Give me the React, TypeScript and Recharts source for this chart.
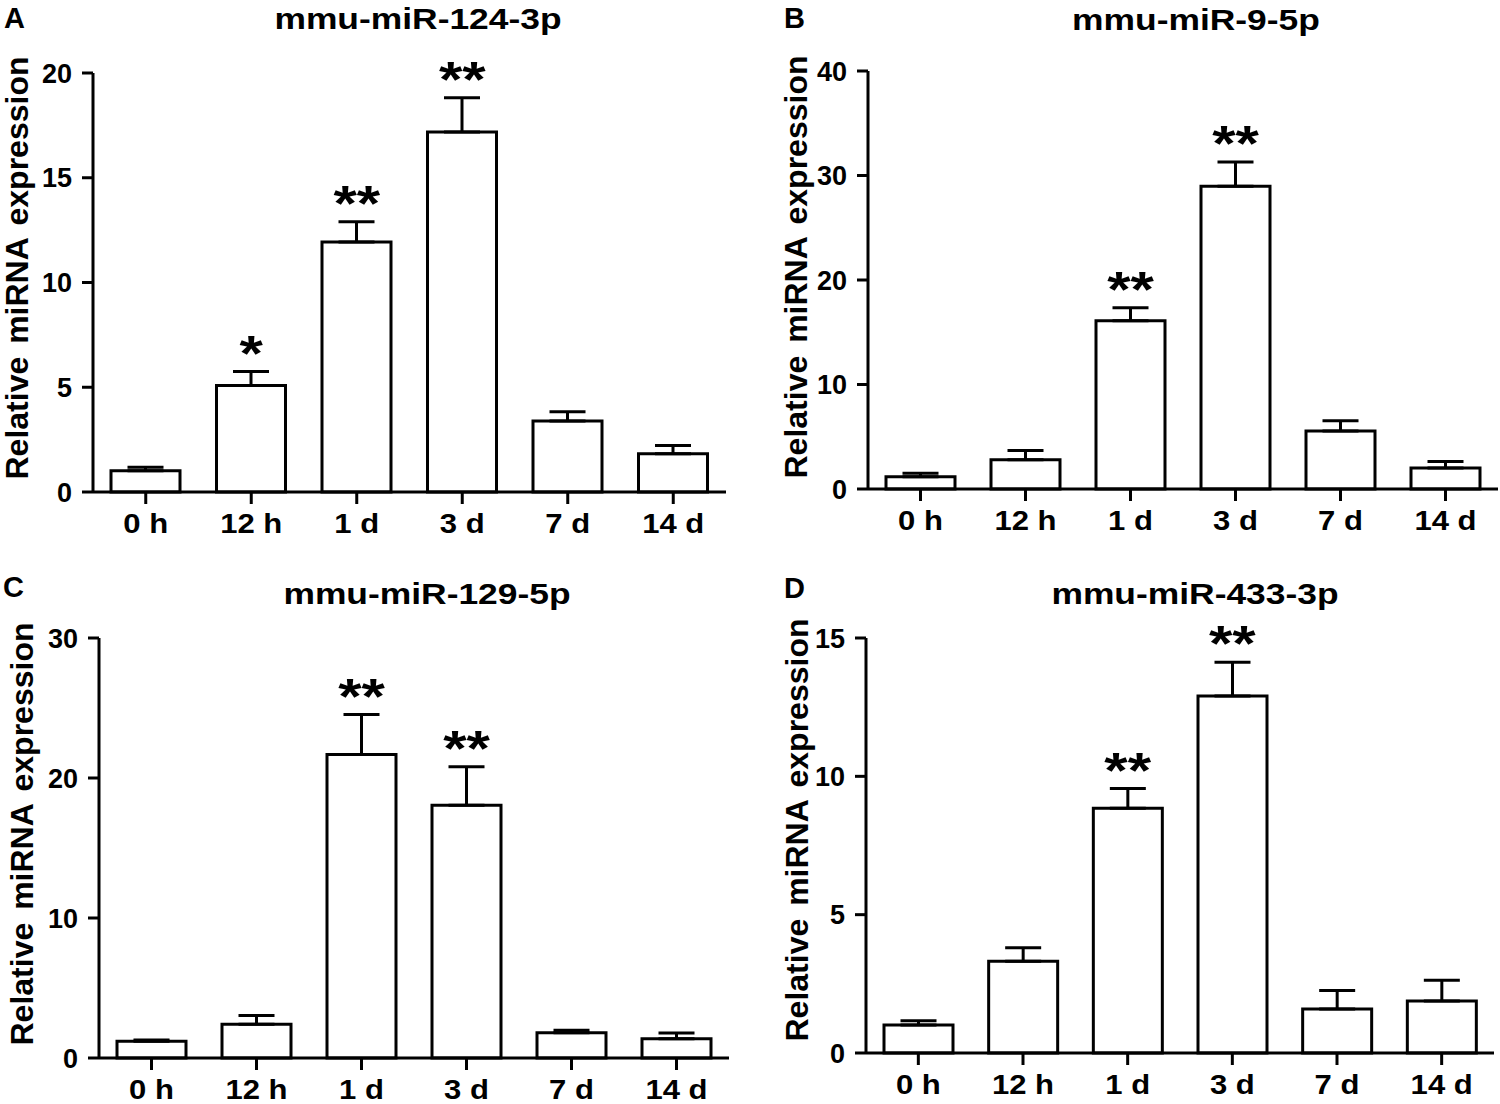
import { Bar, ComposedChart, ErrorBar, LabelList, Line, XAxis, YAxis } from 'recharts';

const times = ['0 h', '12 h', '1 d', '3 d', '7 d', '14 d'];

// mmu-miR-124-3p
const meanA = [1.01, 5.08, 11.93, 17.18, 3.39, 1.82];
const semA = [0.17, 0.67, 0.97, 1.64, 0.44, 0.4];
const sigA = ['', '*', '**', '**', '', ''];
const ticksA = [0, 5, 10, 15, 20];

// mmu-miR-9-5p
const meanB = [1.17, 2.79, 16.1, 28.96, 5.54, 2.01];
const semB = [0.34, 0.9, 1.25, 2.34, 1.0, 0.61];
const sigB = ['', '', '**', '**', '', ''];
const ticksB = [0, 10, 20, 30, 40];

// mmu-miR-129-5p
const meanC = [1.19, 2.41, 21.68, 18.05, 1.81, 1.37];
const semC = [0.1, 0.62, 2.85, 2.75, 0.18, 0.42];
const sigC = ['', '', '**', '**', '', ''];
const ticksC = [0, 10, 20, 30];

// mmu-miR-433-3p
const meanD = [1.01, 3.32, 8.85, 12.9, 1.59, 1.88];
const semD = [0.16, 0.48, 0.71, 1.22, 0.67, 0.75];
const sigD = ['', '', '**', '**', '', ''];
const ticksD = [0, 5, 10, 15];

const FONT = '"Liberation Sans", Arial, Helvetica, sans-serif';
const axisStyle = { stroke: '#000', strokeWidth: 3 };

function build(mean: number[], sem: number[], sig: string[]) {
  return times.map((t, i) => ({
    t,
    mean: mean[i],
    err: [0, sem[i]],
    top: mean[i] + sem[i],
    sig: sig[i],
  }));
}

function XTick({ x, y, payload }: any) {
  return (
    <g transform={`translate(${x},${y + 29}) scale(1.15,1)`}>
      <text textAnchor="middle" fontFamily={FONT} fontWeight="bold" fontSize={27} fill="#000">
        {payload.value}
      </text>
    </g>
  );
}

function YTick({ x, y, payload }: any) {
  return (
    <text x={x} y={y} dy="0.36em" textAnchor="end" fontFamily={FONT} fontWeight="bold" fontSize={27} fill="#000">
      {payload.value}
    </text>
  );
}

function Stars(props: any) {
  const { x, y, value } = props;
  if (!value) return null;
  return (
    <g transform={`translate(${x},${y - 1}) scale(1.2,1)`}>
      <text textAnchor="middle" fontFamily={FONT} fontWeight="bold" fontSize={50} fill="#000">
        {value}
      </text>
    </g>
  );
}

function YLabel({ bx, cy }: any) {
  return (
    <text
      transform={`translate(${bx},${cy}) rotate(-90)`}
      textAnchor="middle"
      fontFamily={FONT}
      fontWeight="bold"
      fontSize={32}
      wordSpacing={4}
      fill="#000"
    >
      Relative miRNA expression
    </text>
  );
}

type PanelProps = {
  left: number;
  top: number;
  data: any[];
  ticks: number[];
  margin: { top: number; right: number; bottom: number; left: number };
  yWidth: number;
  labelX: number;
  labelY: number;
};

function Panel({ left, top, data, ticks, margin, yWidth, labelX, labelY }: PanelProps) {
  return (
    <div style={{ position: 'absolute', left, top }}>
      <ComposedChart width={750} height={552} data={data} margin={margin}>
        <XAxis
          dataKey="t"
          height={45}
          axisLine={axisStyle}
          tickLine={axisStyle}
          tickSize={12}
          tickMargin={0}
          interval={0}
          tick={(p: any) => <XTick {...p} />}
        />
        <YAxis
          width={yWidth}
          domain={[0, ticks[ticks.length - 1]]}
          ticks={ticks}
          interval={0}
          axisLine={axisStyle}
          tickLine={axisStyle}
          tickSize={11}
          tickMargin={10}
          tick={(p: any) => <YTick {...p} />}
          label={<YLabel bx={labelX} cy={labelY} />}
        />
        <Bar dataKey="mean" fill="#fff" stroke="#000" strokeWidth={3} barSize={69} isAnimationActive={false}>
          <ErrorBar dataKey="err" direction="y" width={18} stroke="#000" strokeWidth={3} />
        </Bar>
        <Line dataKey="top" stroke="none" dot={false} activeDot={false} isAnimationActive={false}>
          <LabelList dataKey="sig" content={<Stars />} />
        </Line>
      </ComposedChart>
    </div>
  );
}

const letters = [
  { s: 'A', x: 4, y: 28 },
  { s: 'B', x: 784, y: 28 },
  { s: 'C', x: 3, y: 597 },
  { s: 'D', x: 784, y: 598 },
];

const titles = [
  { s: 'mmu-miR-124-3p', x: 418, y: 29 },
  { s: 'mmu-miR-9-5p', x: 1196, y: 30 },
  { s: 'mmu-miR-129-5p', x: 427, y: 604 },
  { s: 'mmu-miR-433-3p', x: 1195, y: 604 },
];

export default function App() {
  return (
    <div style={{ position: 'absolute', left: 0, top: 0, width: 1500, height: 1104, background: '#fff' }}>
      <Panel
        left={0}
        top={0}
        data={build(meanA, semA, sigA)}
        ticks={ticksA}
        margin={{ top: 73, right: 24, bottom: 15, left: 0 }}
        yWidth={93}
        labelX={28}
        labelY={268}
      />
      <Panel
        left={750}
        top={0}
        data={build(meanB, semB, sigB)}
        ticks={ticksB}
        margin={{ top: 71, right: 2, bottom: 18, left: 0 }}
        yWidth={118}
        labelX={57}
        labelY={267}
      />
      <Panel
        left={0}
        top={552}
        data={build(meanC, semC, sigC)}
        ticks={ticksC}
        margin={{ top: 86, right: 21, bottom: 1, left: 0 }}
        yWidth={99}
        labelX={33}
        labelY={282}
      />
      <Panel
        left={750}
        top={552}
        data={build(meanD, semD, sigD)}
        ticks={ticksD}
        margin={{ top: 86, right: 6, bottom: 6, left: 0 }}
        yWidth={116}
        labelX={58}
        labelY={278}
      />
      <svg
        width={1500}
        height={1104}
        style={{ position: 'absolute', left: 0, top: 0, pointerEvents: 'none' }}
      >
        {letters.map((l) => (
          <text key={l.s} x={l.x} y={l.y} fontFamily={FONT} fontWeight="bold" fontSize={29} fill="#000">
            {l.s}
          </text>
        ))}
        {titles.map((t) => (
          <g key={t.s} transform={`translate(${t.x},${t.y}) scale(1.2,1)`}>
            <text textAnchor="middle" fontFamily={FONT} fontWeight="bold" fontSize={29.5} fill="#000">
              {t.s}
            </text>
          </g>
        ))}
      </svg>
    </div>
  );
}
